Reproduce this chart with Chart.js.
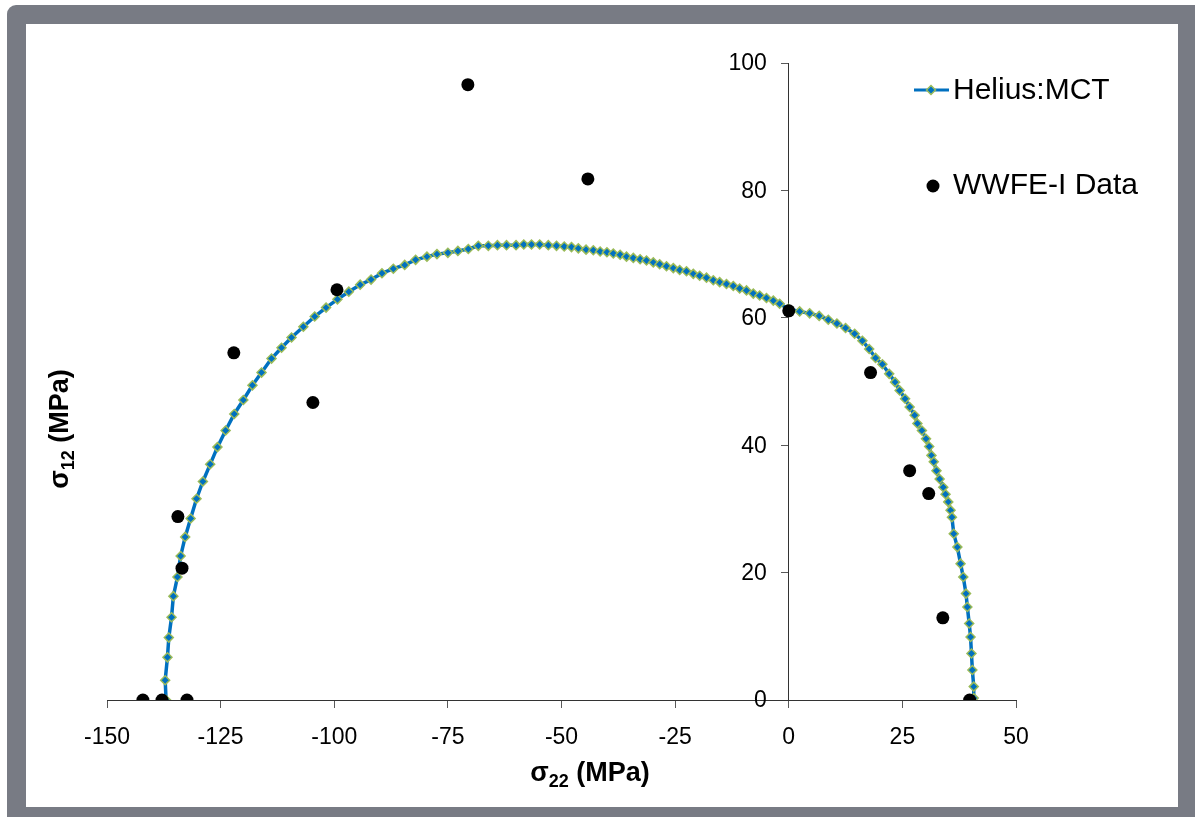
<!DOCTYPE html>
<html>
<head>
<meta charset="utf-8">
<script src="https://cdn.jsdelivr.net/npm/chart.js@4.4.1/dist/chart.umd.min.js"></script>
<style>
  html, body { margin: 0; padding: 0; background: #fff; }
  #wrap { width: 1195px; height: 817px; }
</style>
</head>
<body>
<div id="wrap"><canvas id="chart" width="1195" height="817"></canvas></div>
<script>
// Helius:MCT failure envelope
const mctX = [-137.0, -137.2, -136.7, -136.4, -135.8, -135.4, -134.5, -133.8, -132.8, -131.6,
  -130.3, -128.9, -127.3, -125.7, -123.9, -122.0, -120.0, -118.0, -116.0, -113.8,
  -111.6, -109.4, -106.8, -104.3, -101.8, -99.3, -96.8, -94.3, -91.9, -89.5,
  -87.0, -84.5, -82.1, -79.6, -77.4, -75.0, -72.8, -70.5, -68.3, -66.1,
  -64.1, -62.1, -60.0, -58.3, -56.6, -54.8, -52.9, -51.1, -49.4, -47.8,
  -46.3, -44.6, -43.0, -41.5, -40.0, -38.6, -37.1, -35.7, -34.2, -32.7,
  -31.3, -29.8, -28.4, -26.9, -25.4, -24.0, -22.5, -21.0, -19.6, -18.1,
  -16.6, -15.2, -13.7, -12.2, -10.8, -9.3, -7.8, -6.4, -4.9, -3.4,
  -2.0, -0.1, 2.4, 4.6, 6.7, 8.7, 10.6, 12.5, 14.5, 16.2,
  17.7, 19.1, 20.6, 22.1, 23.4, 24.4, 25.6, 26.6, 27.7, 28.3,
  29.3, 30.2, 30.9, 31.4, 31.9, 32.5, 33.2, 34.0, 34.5, 35.1,
  35.6, 35.9, 36.3, 37.1, 37.8, 38.4, 39.0, 39.3, 39.7, 40.0,
  40.2, 40.4, 40.7, 40.7];
const mctY = [0.0, 3.1, 6.7, 9.8, 13.0, 16.3, 19.3, 22.6, 25.6, 28.5,
  31.6, 34.3, 37.0, 39.7, 42.3, 44.9, 47.1, 49.4, 51.4, 53.6,
  55.3, 56.9, 58.6, 60.2, 61.6, 62.9, 64.1, 65.2, 66.0, 67.0,
  67.7, 68.3, 69.1, 69.6, 70.0, 70.2, 70.5, 70.8, 71.3, 71.3,
  71.4, 71.4, 71.4, 71.5, 71.5, 71.5, 71.4, 71.3, 71.2, 71.1,
  70.9, 70.7, 70.6, 70.4, 70.3, 70.1, 69.9, 69.6, 69.4, 69.2,
  69.0, 68.7, 68.4, 68.1, 67.8, 67.5, 67.3, 66.9, 66.6, 66.3,
  65.9, 65.6, 65.3, 65.0, 64.6, 64.3, 63.8, 63.5, 63.1, 62.7,
  62.2, 61.4, 61.0, 60.7, 60.3, 59.7, 59.1, 58.4, 57.5, 56.4,
  55.1, 53.7, 52.7, 51.2, 49.9, 48.6, 47.3, 46.0, 44.7, 43.4,
  42.3, 41.0, 39.8, 38.4, 37.4, 36.0, 34.7, 33.4, 32.3, 31.1,
  29.8, 28.7, 26.1, 24.0, 21.4, 19.3, 16.7, 14.6, 12.0, 9.9,
  7.3, 4.7, 2.1, 0.3];

// WWFE-I test data
const testX = [-142.1, -137.9, -132.4, -134.4, -133.5, -122.1, -104.7, -99.4, -70.6, -44.2,
  0.0, 18.0, 26.6, 30.8, 33.9, 39.8];
const testY = [0.0, 0.0, 0.0, 28.8, 20.7, 54.5, 46.7, 64.4, 96.6, 81.8,
  61.1, 51.4, 36.0, 32.4, 12.9, 0.0];

const xTicks = [-150, -125, -100, -75, -50, -25, 0, 25, 50];
const yTicks = [0, 20, 40, 60, 80, 100];

const FONT = '"Liberation Sans", Arial, sans-serif';
const BLUE = '#0070c0';
const GREEN = '#9bbb59';

const mctPoints = mctX.map((x, i) => ({ x: x, y: mctY[i] }));
const testPoints = testX.map((x, i) => ({ x: x, y: testY[i] }));

// grey frame behind the chart
const framePlugin = {
  id: 'frame',
  beforeDraw(chart) {
    const c = chart.ctx;
    c.save();
    c.fillStyle = '#787b84';
    c.beginPath();
    c.roundRect(7, 5, 1200, 830, 9);
    c.fill();
    c.fillStyle = '#ffffff';
    c.fillRect(26, 24, 1152, 783);
    c.restore();
  }
};

// y tick labels sit left of the crossing axis, chart.js puts them on the line
const yLabelsPlugin = {
  id: 'yLabels',
  afterDraw(chart) {
    const c = chart.ctx;
    const xs = chart.scales.x, ys = chart.scales.y;
    const x0 = xs.getPixelForValue(0);
    c.save();
    c.fillStyle = '#000';
    c.font = '23px ' + FONT;
    c.textAlign = 'right';
    c.textBaseline = 'middle';
    ys.ticks.forEach(t => {
      c.fillText(String(t.value), x0 - 22, ys.getPixelForValue(t.value) + 1);
    });
    c.restore();
  }
};

// draws text with a subscript part
function subText(c, main, sub, rest, x, y) {
  c.font = 'bold 27px ' + FONT;
  const w1 = c.measureText(main).width;
  const w3 = c.measureText(rest).width;
  c.font = 'bold 18px ' + FONT;
  const w2 = c.measureText(sub).width;
  let sx = x - (w1 + w2 + w3) / 2;
  c.font = 'bold 27px ' + FONT;
  c.fillText(main, sx, y);
  c.font = 'bold 18px ' + FONT;
  c.fillText(sub, sx + w1, y + 6);
  c.font = 'bold 27px ' + FONT;
  c.fillText(rest, sx + w1 + w2, y);
}

const titlesPlugin = {
  id: 'titles',
  afterDraw(chart) {
    const c = chart.ctx;
    c.save();
    c.fillStyle = '#000';
    c.textBaseline = 'alphabetic';
    c.textAlign = 'left';
    subText(c, 'σ', '22', ' (MPa)', 590, 781);
    c.translate(68, 429);
    c.rotate(-Math.PI / 2);
    subText(c, 'σ', '12', ' (MPa)', 0, 0);
    c.restore();
  }
};

const legendPlugin = {
  id: 'customLegend',
  afterDraw(chart) {
    const c = chart.ctx;
    c.save();
    c.strokeStyle = BLUE;
    c.lineWidth = 3;
    c.beginPath();
    c.moveTo(914, 90);
    c.lineTo(949, 90);
    c.stroke();
    c.fillStyle = BLUE;
    c.strokeStyle = GREEN;
    c.lineWidth = 1.5;
    c.beginPath();
    c.moveTo(931, 85.5); c.lineTo(935.5, 90); c.lineTo(931, 94.5); c.lineTo(926.5, 90);
    c.closePath();
    c.fill(); c.stroke();
    c.fillStyle = '#000';
    c.beginPath();
    c.arc(933, 186, 6.5, 0, Math.PI * 2);
    c.fill();
    c.font = '30px ' + FONT;
    c.textBaseline = 'middle';
    c.fillText('Helius:MCT', 953, 91);
    c.fillText('WWFE-I Data', 953, 186);
    c.restore();
  }
};

const ctx = document.getElementById('chart').getContext('2d');

new Chart(ctx, {
  type: 'scatter',
  data: {
    datasets: [{
      label: 'WWFE-I Data',
      data: testPoints,
      showLine: false,
      pointStyle: 'circle',
      pointRadius: 6.5,
      pointBackgroundColor: '#000',
      pointBorderColor: '#000',
      pointBorderWidth: 0,
      order: 0
    }, {
      label: 'Helius:MCT',
      data: mctPoints,
      showLine: true,
      borderColor: BLUE,
      borderWidth: 3.5,
      tension: 0,
      pointStyle: 'rectRot',
      pointRadius: 4.5,
      pointBackgroundColor: BLUE,
      pointBorderColor: GREEN,
      pointBorderWidth: 1.5,
      order: 1
    }]
  },
  options: {
    responsive: false,
    animation: false,
    devicePixelRatio: 1,
    layout: { padding: { left: 107, top: 63, right: 179, bottom: 117 } },
    plugins: {
      legend: { display: false },
      tooltip: { enabled: false }
    },
    scales: {
      x: {
        type: 'linear',
        min: -150,
        max: 50,
        position: { y: 0 },
        afterBuildTicks: (axis) => { axis.ticks = xTicks.map(v => ({ value: v })); },
        ticks: {
          color: '#000',
          font: { size: 23, family: FONT },
          padding: 17,
          autoSkip: false,
          maxRotation: 0
        },
        grid: { drawOnChartArea: false, drawTicks: true, tickLength: 7, color: '#595959' },
        border: { color: '#333', width: 1 }
      },
      y: {
        type: 'linear',
        min: 0,
        max: 100,
        position: { x: 0 },
        afterBuildTicks: (axis) => { axis.ticks = yTicks.map(v => ({ value: v })); },
        ticks: { display: false },
        grid: { drawOnChartArea: false, drawTicks: true, tickLength: 7, color: '#595959' },
        border: { color: '#333', width: 1 }
      }
    }
  },
  plugins: [framePlugin, yLabelsPlugin, titlesPlugin, legendPlugin]
});
</script>
</body>
</html>
